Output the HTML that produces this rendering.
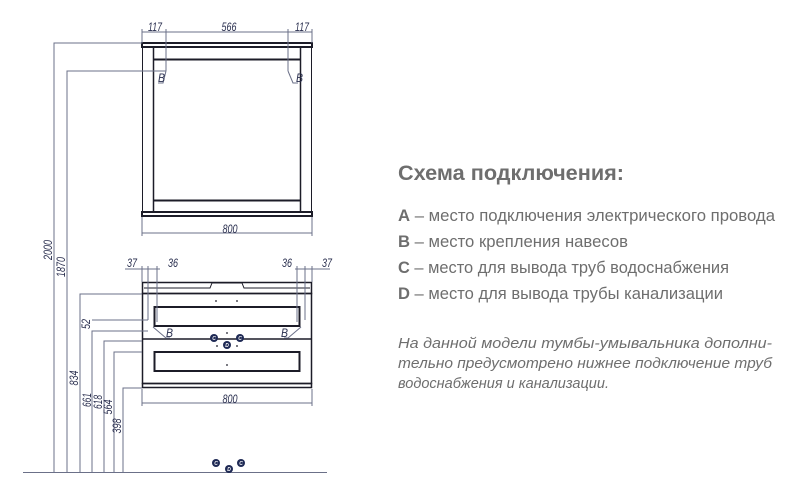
<!DOCTYPE html>
<html><head><meta charset="utf-8"><style>
html,body{margin:0;padding:0;background:#fff;}
svg{display:block;}
.d{stroke:#6b7088;stroke-width:1;fill:none;}
.k{stroke:#1c1c28;fill:none;}
.t{font-family:"Liberation Sans Narrow","Liberation Sans",sans-serif;font-style:italic;font-size:12px;fill:#2a2f4f;}
.g{font-family:"Liberation Sans Narrow","Liberation Sans",sans-serif;fill:#6e6e6e;}
.c{fill:#1f2a55;}
.cl{font-family:"Liberation Sans",sans-serif;font-size:5px;font-weight:bold;font-style:italic;fill:#fff;text-anchor:middle;}
</style></head><body>
<svg width="800" height="496" viewBox="0 0 800 496" xmlns="http://www.w3.org/2000/svg">
<!-- Mirror -->
<g class="k">
<rect x="142" y="43" width="170" height="4" stroke-width="2"/>
<rect x="142" y="212" width="170" height="4" stroke-width="2"/>
<line x1="142.5" y1="47" x2="142.5" y2="212" stroke-width="1"/>
<line x1="311.5" y1="47" x2="311.5" y2="212" stroke-width="1"/>
<line x1="153.5" y1="47" x2="153.5" y2="212" stroke-width="1.5"/>
<line x1="300.5" y1="47" x2="300.5" y2="212" stroke-width="1.5"/>
<line x1="154" y1="59.5" x2="300" y2="59.5" stroke-width="2"/>
<line x1="154" y1="200.5" x2="300" y2="200.5" stroke-width="2"/>
</g>
<g class="d">
<line x1="142" y1="32" x2="312" y2="32"/>
<line x1="142" y1="29" x2="142" y2="43"/><line x1="312" y1="29" x2="312" y2="43"/>
<line x1="166" y1="29" x2="166" y2="71"/><line x1="288" y1="29" x2="288" y2="71"/>
<polyline points="166,71 163,83 158,83"/><polyline points="288,71 293,83 298,83"/>
<line x1="142" y1="217" x2="142" y2="236"/><line x1="312" y1="217" x2="312" y2="236"/>
<line x1="142" y1="233" x2="312" y2="233"/>
</g>
<text class="t" x="155" y="31" text-anchor="middle" textLength="14" lengthAdjust="spacingAndGlyphs">117</text>
<text class="t" x="229" y="31" text-anchor="middle" textLength="15" lengthAdjust="spacingAndGlyphs">566</text>
<text class="t" x="302" y="31" text-anchor="middle" textLength="14" lengthAdjust="spacingAndGlyphs">117</text>
<text class="t" x="158" y="82" textLength="7" lengthAdjust="spacingAndGlyphs">B</text>
<text class="t" x="296" y="82" textLength="7" lengthAdjust="spacingAndGlyphs">B</text>
<text class="t" x="230" y="233" text-anchor="middle" textLength="15" lengthAdjust="spacingAndGlyphs">800</text>

<!-- Cabinet -->
<g class="k">
<rect x="142.5" y="282.5" width="169" height="11" stroke-width="1.5"/>
<path d="M144 288 H210 L212 283 H242 L244 288 H310" stroke-width="1"/>
<rect x="142.5" y="293.5" width="169" height="90" stroke-width="1.5"/>
<line x1="142" y1="339" x2="312" y2="339" stroke-width="1.5"/>
<rect x="154.5" y="307" width="145" height="19" stroke-width="2"/>
<rect x="154.5" y="352" width="145" height="19" stroke-width="2"/>
<rect x="142.5" y="383.5" width="169" height="4" stroke-width="1.5"/>
</g>
<g fill="#1c1c28"><circle cx="216" cy="301" r="0.9"/><circle cx="237" cy="301" r="0.9"/><circle cx="227" cy="333" r="0.9"/><circle cx="227" cy="365" r="0.9"/><circle cx="217" cy="346" r="0.9"/><circle cx="237" cy="346" r="0.9"/></g>
<g class="d">
<line x1="125" y1="269" x2="160" y2="269"/><line x1="295" y1="269" x2="330" y2="269"/>
<line x1="142" y1="266" x2="142" y2="282"/><line x1="148" y1="266" x2="148" y2="320"/><line x1="157" y1="266" x2="157" y2="322"/>
<line x1="297" y1="266" x2="297" y2="322"/><line x1="305" y1="266" x2="305" y2="320"/><line x1="312" y1="266" x2="312" y2="282"/>
<polyline points="153,327 166,338 170,338"/><polyline points="301,327 288,338 284,338"/>
<line x1="142" y1="389" x2="142" y2="406"/><line x1="312" y1="389" x2="312" y2="406"/>
<line x1="142" y1="403" x2="312" y2="403"/>
<polyline points="142,43 54,43 54,472"/>
<polyline points="166,71 67,71 67,472"/>
<polyline points="142,294 80,294 80,472"/>
<line x1="92" y1="320" x2="148" y2="320"/>
<polyline points="148,331 92,331 92,472"/>
<polyline points="142,341 104,341 104,472"/>
<polyline points="142,352 114,352 114,472"/>
<polyline points="142,388 123,388 123,472"/>
<line x1="23" y1="472.5" x2="327" y2="472.5"/>
</g>
<text class="t" x="127" y="267" textLength="10" lengthAdjust="spacingAndGlyphs">37</text>
<text class="t" x="168" y="267" textLength="10" lengthAdjust="spacingAndGlyphs">36</text>
<text class="t" x="282" y="267" textLength="10" lengthAdjust="spacingAndGlyphs">36</text>
<text class="t" x="322" y="267" textLength="10" lengthAdjust="spacingAndGlyphs">37</text>
<text class="t" x="166" y="337" textLength="7" lengthAdjust="spacingAndGlyphs">B</text>
<text class="t" x="281" y="337" textLength="7" lengthAdjust="spacingAndGlyphs">B</text>
<text class="t" x="230" y="403" text-anchor="middle" textLength="15" lengthAdjust="spacingAndGlyphs">800</text>
<g class="t" text-anchor="middle">
<text transform="translate(52,250) rotate(-90)" textLength="20" lengthAdjust="spacingAndGlyphs">2000</text>
<text transform="translate(65,267) rotate(-90)" textLength="20" lengthAdjust="spacingAndGlyphs">1870</text>
<text transform="translate(78,378) rotate(-90)" textLength="15" lengthAdjust="spacingAndGlyphs">834</text>
<text transform="translate(90,324) rotate(-90)" textLength="10" lengthAdjust="spacingAndGlyphs">52</text>
<text transform="translate(91,400) rotate(-90)" textLength="14" lengthAdjust="spacingAndGlyphs">661</text>
<text transform="translate(102,402) rotate(-90)" textLength="14" lengthAdjust="spacingAndGlyphs">618</text>
<text transform="translate(112,407) rotate(-90)" textLength="15" lengthAdjust="spacingAndGlyphs">564</text>
<text transform="translate(121,426) rotate(-90)" textLength="15" lengthAdjust="spacingAndGlyphs">398</text>
</g>
<g>
<circle class="c" cx="214" cy="338" r="4"/><circle class="c" cx="240" cy="338" r="4"/><circle class="c" cx="227" cy="345" r="4"/>
<text class="cl" x="214" y="340">C</text><text class="cl" x="240" y="340">C</text><text class="cl" x="227" y="347">D</text>
<circle class="c" cx="216" cy="463" r="4"/><circle class="c" cx="241" cy="463" r="4"/><circle class="c" cx="229" cy="469" r="4"/>
<text class="cl" x="216" y="465">C</text><text class="cl" x="241" y="465">C</text><text class="cl" x="229" y="471">D</text>
</g>

<text class="g" x="398" y="180" font-size="21" font-weight="bold" textLength="226" lengthAdjust="spacingAndGlyphs">Схема подключения:</text>
<text class="g" x="398" y="221" font-size="17" textLength="377" lengthAdjust="spacingAndGlyphs"><tspan font-weight="bold">A</tspan> – место подключения электрического провода</text>
<text class="g" x="398" y="247" font-size="17" textLength="230" lengthAdjust="spacingAndGlyphs"><tspan font-weight="bold">B</tspan> – место крепления навесов</text>
<text class="g" x="398" y="273" font-size="17" textLength="331" lengthAdjust="spacingAndGlyphs"><tspan font-weight="bold">C</tspan> – место для вывода труб водоснабжения</text>
<text class="g" x="398" y="299" font-size="17" textLength="325" lengthAdjust="spacingAndGlyphs"><tspan font-weight="bold">D</tspan> – место для вывода трубы канализации</text>
<g class="g" font-size="15" font-style="italic">
<text x="398" y="348" textLength="374" lengthAdjust="spacingAndGlyphs">На данной модели тумбы-умывальника  дополни-</text>
<text x="398" y="368" textLength="374" lengthAdjust="spacingAndGlyphs">тельно предусмотрено нижнее подключение труб</text>
<text x="398" y="388" textLength="211" lengthAdjust="spacingAndGlyphs">водоснабжения и канализации.</text>
</g>
</svg>
</body></html>
